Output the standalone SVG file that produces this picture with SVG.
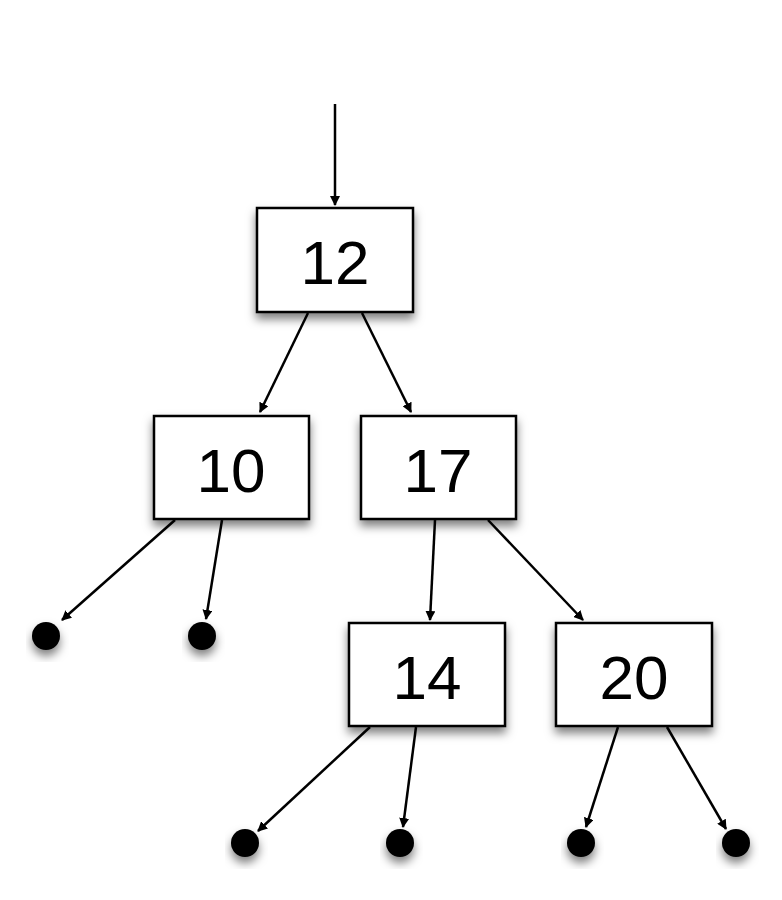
<svg xmlns="http://www.w3.org/2000/svg" width="782" height="900" viewBox="0 0 782 900">
<defs>
<filter id="sh" x="-20%" y="-20%" width="150%" height="160%"><feDropShadow dx="0" dy="6" stdDeviation="5" flood-color="#000" flood-opacity="0.5"/></filter>
<marker id="ah" markerWidth="10" markerHeight="10" refX="9" refY="5" orient="auto" markerUnits="userSpaceOnUse" viewBox="0 0 10 10"><path d="M0,0 L10,5 L0,10 z" fill="#000"/></marker>
<style>
rect{fill:#fff;stroke:#000;stroke-width:2.5;filter:url(#sh)}
text{font-family:"Liberation Sans",Arial,sans-serif;font-size:62px;text-anchor:middle;fill:#000}
.c line{stroke:#000;stroke-width:2.5;marker-end:url(#ah)}
circle{fill:#000;filter:url(#sh)}
</style>
</defs>
<g id="n12"><rect x="257" y="208" width="156" height="104"/><text x="335" y="284">12</text></g>
<g id="n10"><rect x="154" y="416" width="155" height="103"/><text x="231" y="492">10</text></g>
<g id="n17"><rect x="361" y="416" width="155" height="103"/><text x="438" y="492">17</text></g>
<g id="n14"><rect x="349" y="623" width="156" height="103"/><text x="427" y="699">14</text></g>
<g id="n20"><rect x="556" y="623" width="156" height="103"/><text x="634" y="699">20</text></g>
<g id="leaves">
<circle cx="46" cy="636" r="14"/><circle cx="202" cy="636" r="14"/>
<circle cx="245" cy="843" r="14"/><circle cx="400" cy="843" r="14"/>
<circle cx="581" cy="843" r="14"/><circle cx="736" cy="843" r="14"/>
</g>
<g class="c" id="connectors">
<line x1="335" y1="104" x2="335" y2="205"/>
<line x1="308" y1="313" x2="260" y2="412"/>
<line x1="362" y1="313" x2="411" y2="412"/>
<line x1="175" y1="520" x2="62" y2="620"/>
<line x1="222" y1="520" x2="206" y2="619"/>
<line x1="435" y1="520" x2="430" y2="620"/>
<line x1="488" y1="520" x2="583" y2="620"/>
<line x1="370" y1="727" x2="258" y2="831"/>
<line x1="416" y1="727" x2="403" y2="827"/>
<line x1="618" y1="727" x2="586" y2="827"/>
<line x1="667" y1="727" x2="726" y2="829"/>
</g>
</svg>
